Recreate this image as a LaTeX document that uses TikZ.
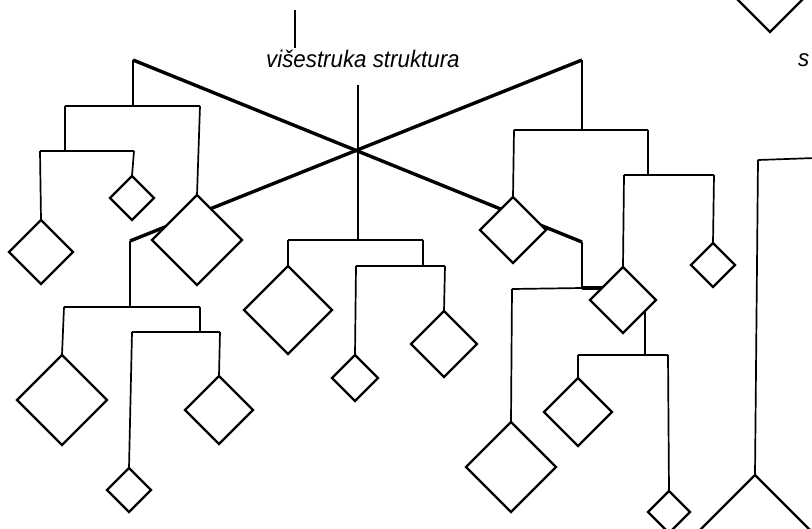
\documentclass[tikz,border=0pt]{standalone}
\usepackage{fontspec}
\setmainfont{Liberation Sans}
\usetikzlibrary{shapes.geometric}
\begin{document}
\begin{tikzpicture}[x=1pt,y=-1pt,
  dia/.style={draw, shape=diamond, aspect=1, inner sep=0pt, outer sep=0pt,
    fill=white, line width=2.2pt, line join=miter,
    minimum width=2*#1, minimum height=2*#1},
  xline/.style={line width=3.4pt},
  bar/.style={line width=2.4pt},
  rod/.style={line width=1.7pt},
  lbl/.style={inner sep=0pt, anchor=base west, xscale=0.93, font=\itshape\fontsize{24}{28}\selectfont}]
\useasboundingbox (0,0) rectangle (812,528);
\clip (0,0) rectangle (812,528);

% ---------- coordinates ----------
\coordinate (A) at (133,60);
\coordinate (B) at (582,242);
\coordinate (C) at (582,60);
\coordinate (D) at (130,241);
% left top
\coordinate (a1) at (133,106);
\coordinate (bl1) at (65,106);  \coordinate (br1) at (200,106);
\coordinate (bl2) at (65,151);
\coordinate (cl2) at (40,151);  \coordinate (cr2) at (134,151);
% left bottom
\coordinate (d1) at (130,307);
\coordinate (el1) at (64,307);  \coordinate (er1) at (200,307);
\coordinate (er2) at (200,332);
\coordinate (fl2) at (132,332); \coordinate (fr2) at (220,332);
% centre
\coordinate (ct) at (358,85);
\coordinate (cb) at (358,240);
\coordinate (gl1) at (288,240); \coordinate (gr1) at (423,240);
\coordinate (gr2) at (423,266);
\coordinate (hl2) at (356,266); \coordinate (hr2) at (445,266);
% right top
\coordinate (c1) at (582,130);
\coordinate (il1) at (514,130); \coordinate (ir1) at (648,130);
\coordinate (ir2) at (648,175);
\coordinate (jl2) at (624,175); \coordinate (jr2) at (714,175);
% right lower
\coordinate (b1) at (582,288);
\coordinate (b2) at (612,288);
\coordinate (kl) at (512,289);
\coordinate (m1) at (645,300);
\coordinate (m2) at (645,355);
\coordinate (nl) at (578,355);  \coordinate (nr) at (668,355);
% far right
\coordinate (p1) at (758,160);
\coordinate (p2) at (815,158);
% hacek line
\coordinate (h1) at (295,10);
\coordinate (h2) at (295,48);

% ---------- connectors (drawn below diamonds) ----------
\draw[xline] (A) -- (B);
\draw[xline] (C) -- (D);

\draw[rod] (A) -- (a1);
\draw[bar] (bl1) -- (br1);
\draw[rod] (bl1) -- (bl2);
\draw[bar] (cl2) -- (cr2);

\draw[rod] (D) -- (d1);
\draw[bar] (el1) -- (er1);
\draw[rod] (er1) -- (er2);
\draw[bar] (fl2) -- (fr2);

\draw[rod] (ct) -- (cb);
\draw[bar] (gl1) -- (gr1);
\draw[rod] (gr1) -- (gr2);
\draw[bar] (hl2) -- (hr2);

\draw[rod] (C) -- (c1);
\draw[bar] (il1) -- (ir1);
\draw[rod] (ir1) -- (ir2);
\draw[bar] (jl2) -- (jr2);

\draw[rod] (B) -- (b1);
\draw[xline] (b1) -- (b2);
\draw[rod] (kl) -- (b1);
\draw[rod] (m1) -- (m2);
\draw[bar] (nl) -- (nr);

\draw[rod] (p1) -- (p2);
\draw[rod] (h1) -- (h2);

% ---------- diamonds ----------
\node[dia=32] (n1) at (41,252) {};
\node[dia=22] (n2) at (132,198) {};
\node[dia=45] (n3) at (197,240) {};
\node[dia=45] (n4) at (62,400) {};
\node[dia=22] (n5) at (129,490) {};
\node[dia=34] (n6) at (219,410) {};
\node[dia=44] (n7) at (288,310) {};
\node[dia=23] (n8) at (355,378) {};
\node[dia=33] (n9) at (444,344) {};
\node[dia=33] (n10) at (513,230) {};
\node[dia=33] (n11) at (623,300) {};
\node[dia=22] (n12) at (713,265) {};
\node[dia=34] (n13) at (578,412) {};
\node[dia=21] (n14) at (669,512) {};
\node[dia=45] (n15) at (511,467) {};
\node[dia=40] (n16) at (770,-8) {};
\node[dia=62] (n17) at (755,537) {};

% ---------- hangers ----------
\draw[rod] (cr2) -- (n2.north);
\draw[rod] (cl2) -- (n1.north);
\draw[rod] (br1) -- (n3.north);
\draw[rod] (el1) -- (n4.north);
\draw[rod] (fl2) -- (n5.north);
\draw[rod] (fr2) -- (n6.north);
\draw[rod] (gl1) -- (n7.north);
\draw[rod] (hl2) -- (n8.north);
\draw[rod] (hr2) -- (n9.north);
\draw[rod] (il1) -- (n10.north);
\draw[rod] (jl2) -- (n11.north);
\draw[rod] (jr2) -- (n12.north);
\draw[rod] (nl) -- (n13.north);
\draw[rod] (nr) -- (n14.north);
\draw[rod] (kl) -- (n15.north);
\draw[rod] (p1) -- (n17.north);

% ---------- texts ----------
\node[lbl] (title) at (266,67) {višestruka struktura};
\node[lbl] (edge) at (798,66) {s};
\end{tikzpicture}
\end{document}
